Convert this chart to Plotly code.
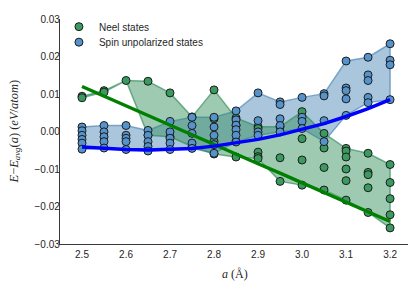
import plotly.graph_objects as go

a_values = [2.5, 2.55, 2.6, 2.65, 2.7, 2.75, 2.8, 2.85, 2.9, 2.95, 3.0, 3.05, 3.1, 3.15, 3.2]

neel_states = [
    [0.0094, 0.0090],
    [0.0109, 0.0105],
    [0.0136],
    [0.0134, -0.0010],
    [0.0103, -0.0014],
    [0.0039, -0.0040],
    [0.0111, 0.0034, -0.0026, -0.0060],
    [0.0036, 0.0016, -0.0026, -0.0068],
    [0.0013, 0.0008, -0.0055, -0.0067, -0.0072],
    [0.0013, -0.0070, -0.0133],
    [0.0053, -0.0019, -0.0076, -0.0143],
    [-0.0005, -0.0044, -0.0096, -0.0156],
    [-0.0045, -0.0052, -0.0068, -0.0100, -0.0131, -0.0183],
    [-0.0058, -0.0109, -0.0115, -0.0150, -0.0216],
    [-0.0088, -0.0136, -0.0179, -0.0222, -0.0257],
]

spin_unpolarized = [
    [0.0012, 0.0002, -0.0010, -0.0021, -0.0031, -0.0047],
    [0.0016, -0.0001, -0.0014, -0.0027, -0.0044],
    [0.0016, -0.0010, -0.0018, -0.0027, -0.0048],
    [0.0003, -0.0010, -0.0027, -0.0040, -0.0052],
    [0.0027, -0.0001, -0.0018, -0.0031, -0.0048],
    [0.0038, 0.0016, -0.0005, -0.0031, -0.0045],
    [0.0038, 0.0012, -0.0010, -0.0035, -0.0058],
    [0.0055, 0.0031, 0.0017, 0.0005, -0.0010, -0.0028],
    [0.0103, 0.0029, -0.0001, -0.0010],
    [0.0079, 0.0072, 0.0034, 0.0016, -0.0001],
    [0.0091, 0.0038, 0.0027, 0.0008],
    [0.0101, 0.0095, 0.0029, -0.0027],
    [0.0188, 0.0116, 0.0109, 0.0087, 0.0043],
    [0.0198, 0.0151, 0.0136, 0.0091, 0.0077],
    [0.0234, 0.0190, 0.0178, 0.0085],
]

neel_fit = [0.0120, 0.0094, 0.0069, 0.0043, 0.0017, -0.0009, -0.0034, -0.0060,
            -0.0086, -0.0111, -0.0137, -0.0163, -0.0189, -0.0214, -0.0240]
spin_fit = [-0.0041, -0.0045, -0.0048, -0.0049, -0.0048, -0.0045, -0.0039, -0.0031,
            -0.0021, -0.0009, 0.0005, 0.0021, 0.0040, 0.0061, 0.0085]

y_ticks = [0.03, 0.02, 0.01, 0.0, -0.01, -0.02, -0.03]
x_ticks = [2.5, 2.6, 2.7, 2.8, 2.9, 3.0, 3.1, 3.2]

GREEN_RGB = (46, 139, 87)
BLUE_RGB = (70, 130, 180)
GREEN_DOT = "#3a9a60"
BLUE_DOT = "#5593cc"

Y_TITLE = "<i>E</i>−<i>E</i><sub><i>avg</i></sub>(<i>a</i>) (<i>eV</i>/<i>atom</i>)"


def rgba(c, a):
    return "rgba(%d,%d,%d,%.2f)" % (c[0], c[1], c[2], a)


def envelope(groups):
    hi = [max(g) for g in groups]
    lo = [min(g) for g in groups]
    return a_values + a_values[::-1], hi + lo[::-1]


fig = go.Figure()

for groups, col in [(spin_unpolarized, BLUE_RGB), (neel_states, GREEN_RGB)]:
    px_, py_ = envelope(groups)
    fig.add_trace(go.Scatter(
        x=px_, y=py_, mode="lines", fill="toself",
        fillcolor=rgba(col, 0.46), line=dict(color=rgba(col, 0.65), width=1.5),
        showlegend=False, hoverinfo="skip"))

for groups, dot, name, leg in [(neel_states, GREEN_DOT, "Neel states", "legend"),
                               (spin_unpolarized, BLUE_DOT, "Spin unpolarized states", "legend2")]:
    xs, ys = [], []
    for a, g in zip(a_values, groups):
        for v in g:
            xs.append(a)
            ys.append(v)
    fig.add_trace(go.Scatter(
        x=xs, y=ys, mode="markers", name=name, legend=leg,
        marker=dict(size=8, color=dot, line=dict(color="#1c1c1c", width=1))))

fig.add_trace(go.Scatter(x=a_values, y=neel_fit, mode="lines",
                         line=dict(color="#008000", width=3.5), showlegend=False))
fig.add_trace(go.Scatter(x=a_values, y=spin_fit, mode="lines",
                         line=dict(color="#0000ff", width=3.5), showlegend=False))

leg_common = dict(xanchor="left", yanchor="middle", bgcolor="rgba(0,0,0,0)",
                  font=dict(size=10), itemwidth=30)

# page body has an 8px default margin: figure is sized/margined to compensate
fig.update_layout(
    width=408, height=280,
    margin=dict(l=52, r=7, t=4, b=44),
    paper_bgcolor="white", plot_bgcolor="white",
    font=dict(family="Liberation Sans, Arial, sans-serif", size=10, color="#262626"),
    showlegend=True,
    legend=dict(x=-0.003, y=0.966, **leg_common),
    legend2=dict(x=-0.003, y=0.897, **leg_common),
    xaxis=dict(range=[2.45, 3.243], tickvals=x_ticks, ticktext=["%.1f" % t for t in x_ticks],
               showgrid=False, zeroline=False, showline=True, linecolor="#3a3a3a",
               linewidth=1.3, ticks="", ticklen=0, ticklabelstandoff=1),
    yaxis=dict(range=[-0.03, 0.03], tickvals=y_ticks,
               ticktext=[("%.2f" % t).replace("-", "\u2212") for t in y_ticks],
               showgrid=False, zeroline=False, showline=True, linecolor="#3a3a3a",
               linewidth=1.3, ticks="", ticklen=0, ticklabelstandoff=-3),
    annotations=[
        dict(text="<i>a</i> (Å)", xref="paper", yref="paper", x=0.5, y=0,
             yshift=-30, showarrow=False, yanchor="middle",
             font=dict(family="Liberation Serif, serif", size=12, color="#262626")),
        dict(text=Y_TITLE,
             xref="paper", yref="paper", x=0, y=0.5, xshift=-46, textangle=-90,
             showarrow=False, xanchor="center",
             font=dict(family="Liberation Serif, serif", size=12.5, color="#262626")),
    ],
)

fig.write_html("out.html")
